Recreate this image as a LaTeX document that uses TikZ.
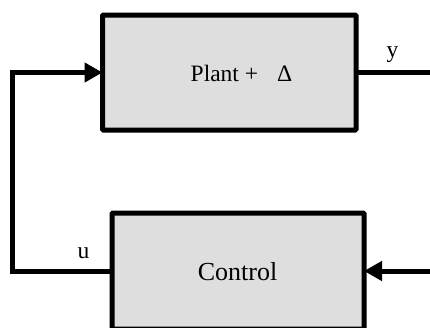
\documentclass[tikz,border=0pt]{standalone}
\usepackage{fontspec}
\setmainfont{Liberation Serif}
\usetikzlibrary{arrows.meta}
\begin{document}
\begin{tikzpicture}[x=1pt,y=-1pt,
  blockbox/.style={draw=black,fill=black!13,line width=5pt,rounded corners=1pt},
  wire/.style={line width=5pt},
  arrowwire/.style={wire,-{Triangle[length=18pt,width=19pt]}},
  lbl/.style={font=\fontsize{23.5}{28}\selectfont,inner sep=0pt},
  biglbl/.style={font=\fontsize{26}{30}\selectfont,inner sep=0pt}]
  \useasboundingbox (0,0) rectangle (430,327);
  \begin{scope}
    \clip (0,0) rectangle (430,327);
    % blocks
    \draw[blockbox] (102.5,15) rectangle (356,130);
    \draw[blockbox] (112,213) rectangle (364,329);
    \coordinate (plantW) at (102.5,72.5);
    \coordinate (plantE) at (356,72.5);
    \coordinate (ctrlW) at (112,271);
    \coordinate (ctrlE) at (364,271);
    \coordinate (loop) at (12.5,271);
    \coordinate (yout) at (432,72.5);
    \coordinate (rin) at (432,271);
    % texts
    \node[lbl,anchor=base west] (plant) at (190.5,81) {Plant +\hspace{19pt}Δ};
    \node[biglbl,anchor=base] (ctrl) at (237.5,280) {Control};
    \node[lbl,anchor=base] (ylbl) at (392.5,57) {y};
    \node[lbl,anchor=base] (ulbl) at (83.5,258) {u};
    % connectors
    \draw[arrowwire,line join=miter] (ctrlW) -- (loop) |- (plantW);
    \draw[wire] (plantE) -- (yout);
    \draw[arrowwire] (rin) -- (ctrlE);
  \end{scope}
\end{tikzpicture}
\end{document}
